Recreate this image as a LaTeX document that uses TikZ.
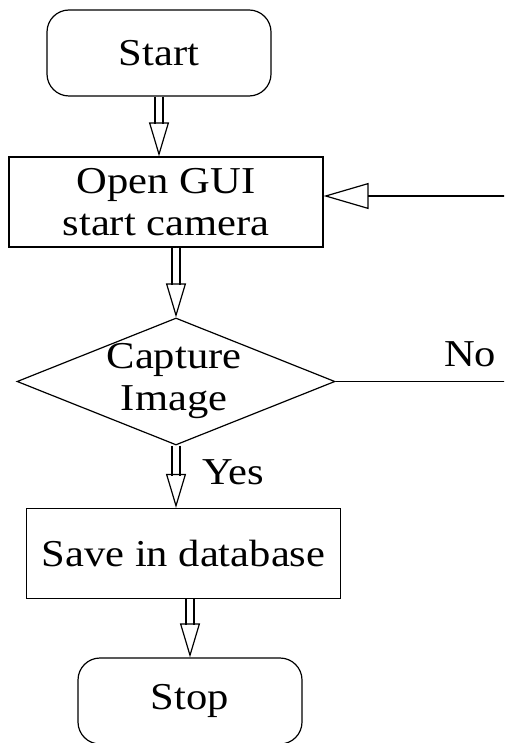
\documentclass[tikz,border=0pt]{standalone}
\usepackage{fontspec}
\setmainfont{Liberation Serif}[FakeStretch=1.12]
\usetikzlibrary{shapes.geometric,arrows.meta}
\begin{document}
\begin{tikzpicture}[x=0.5pt,y=-0.5pt,
  every node/.style={font=\fontsize{19}{21}\selectfont},
  base/.style={draw=black, line width=0.6pt, inner sep=0pt, align=center},
  term/.style={base, rectangle, rounded corners=11pt, minimum width=112pt, minimum height=43pt},
  proc/.style={base, rectangle, minimum width=157pt, minimum height=45pt},
  decision/.style={base, diamond, minimum width=159pt, minimum height=63.5pt},
  plain/.style={inner sep=0pt, align=center},
  dbl/.style={draw=white, line width=0.6pt,
    -{Triangle[open, color=black, length=17pt, width=10pt, line width=0.6pt]},
    preaction={arrows=-, draw=black, double=white, double distance=3.4pt, shorten >=16pt}},
  loop/.style={draw=black, line width=0.6pt,
    -{Triangle[open, length=22.5pt, width=13pt, line width=0.6pt]}}
]
\useasboundingbox (0,0) rectangle (504,743);
\clip (0,0) rectangle (504,743);

\node[term] (start) at (159,53) {Start};
\node[proc] (gui) at (166,202) {Open GUI\\start camera};
\node[decision] (dec) at (176,381.5) {};
\node[plain] (dectext) at (174,381) {Capture\\Image};
\node[proc] (save) at (183.5,553.5) {Save in database};
\node[term] (stop) at (190,701) {Stop};

\node[plain] (yes) at (233,472) {Yes};
\node[plain] (no) at (470,354) {No};
\coordinate (loopR) at (540,196);

\draw[dbl] (start.south) -- (start.south |- gui.north);
\draw[dbl] (gui.south -| dec.north) -- (dec.north);
\draw[dbl] (dec.south) -- (dec.south |- save.north);
\draw[dbl] (save.south -| stop.north) -- (stop.north);
\draw[loop] (dec.east) -| (loopR) -- (loopR -| gui.east);
\end{tikzpicture}
\end{document}
